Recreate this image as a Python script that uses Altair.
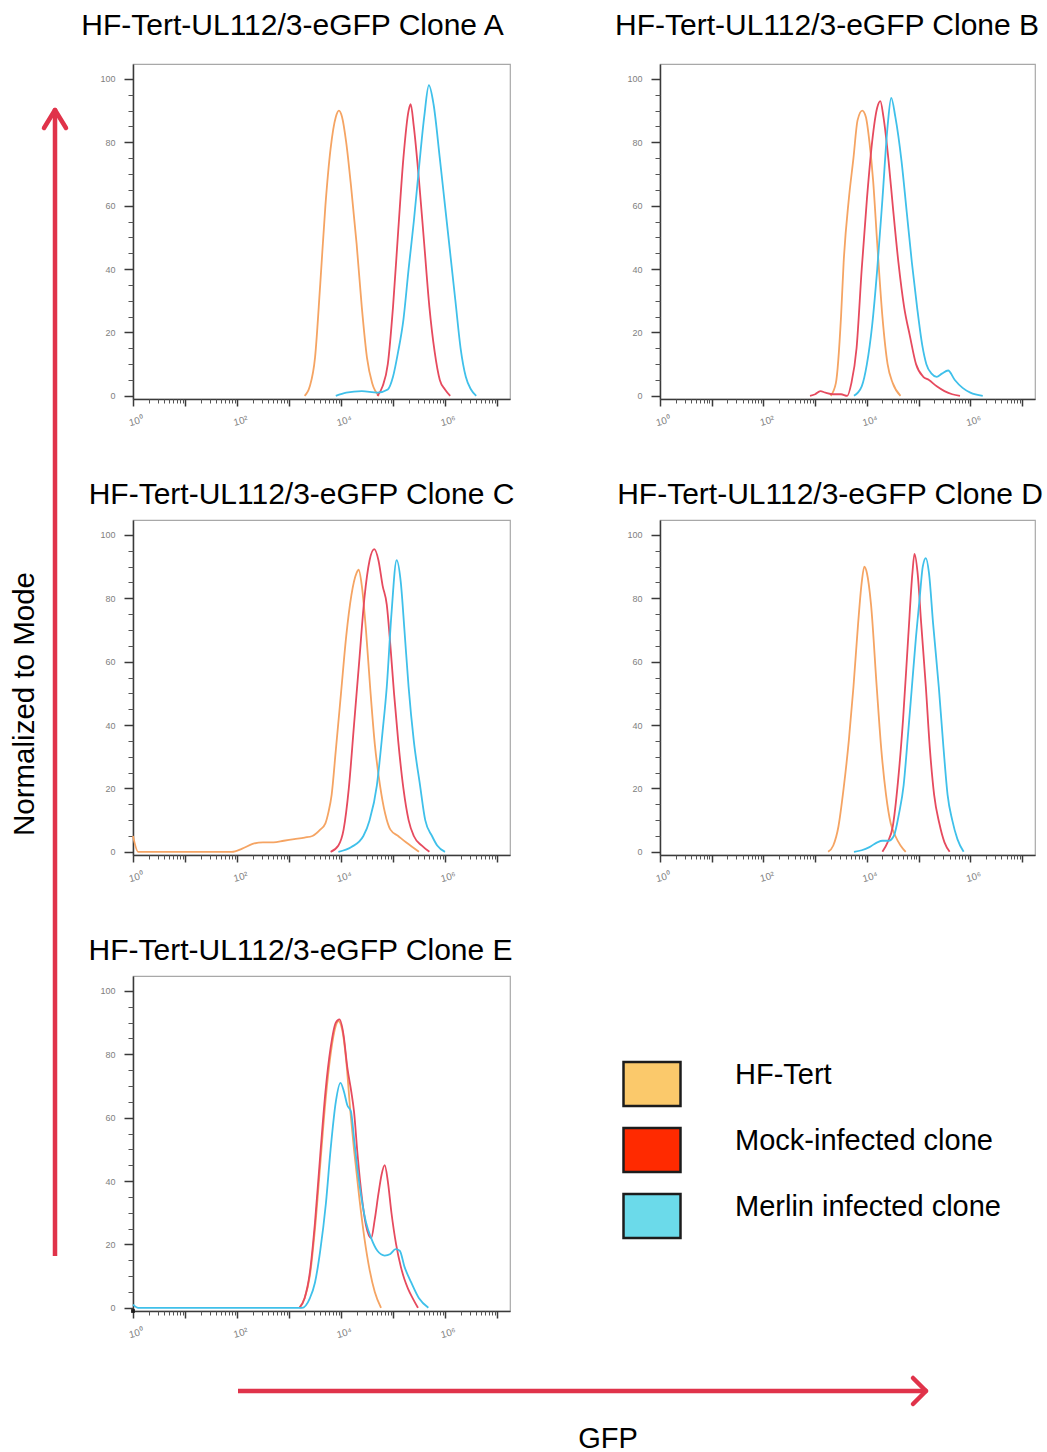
import altair as alt
import pandas as pd
import numpy as np

FONT = "Liberation Sans"
SERIES = ["HF-Tert", "Mock-infected clone", "Merlin infected clone"]
LINE_COLORS = ["#F5A463", "#E64A5E", "#3FC0EA"]
LEGEND_FILLS = ["#FBC96B", "#FF2A00", "#6BDAEA"]
ARROW = "#E0334A"
AX = "#3a3a3a"

TITLES = ["HF-Tert-UL112/3-eGFP Clone A", "HF-Tert-UL112/3-eGFP Clone B",
          "HF-Tert-UL112/3-eGFP Clone C", "HF-Tert-UL112/3-eGFP Clone D",
          "HF-Tert-UL112/3-eGFP Clone E"]
X_MAJOR = [0, 1, 2, 3, 4, 5, 6, 7]
Y_MAJOR = [0, 20, 40, 60, 80, 100]

# ---- Clone A (x = log10 GFP, y = % of mode)
A_tert_x = [3.3, 3.4, 3.5, 3.6, 3.7, 3.8, 3.9, 3.96, 4.02, 4.1, 4.2, 4.3, 4.4, 4.5, 4.6, 4.73]
A_tert_y = [0, 3, 12, 35, 60, 78, 88, 90, 88, 80, 65, 48, 28, 12, 4, 0]
A_mock_x = [4.7, 4.8, 4.9, 5.0, 5.1, 5.2, 5.3, 5.34, 5.4, 5.5, 5.6, 5.7, 5.8, 5.9, 6.0, 6.1]
A_mock_y = [0, 3, 10, 28, 52, 75, 90, 92, 85, 68, 48, 28, 14, 5, 2, 0]
A_merl_x = [3.9, 4.1, 4.4, 4.7, 4.9, 5.0, 5.1, 5.2, 5.3, 5.4, 5.5, 5.6, 5.69, 5.78, 5.9, 6.0, 6.1, 6.2, 6.3, 6.4, 6.5, 6.6]
A_merl_y = [0, 1, 1.5, 1, 2, 6, 14, 24, 40, 55, 72, 88, 98, 92, 75, 60, 45, 30, 15, 6, 2, 0]

# ---- Clone B
B_tert_x = [3.3, 3.4, 3.5, 3.55, 3.65, 3.74, 3.82, 3.91, 3.98, 4.05, 4.12, 4.2, 4.3, 4.4, 4.5, 4.65]
B_tert_y = [0, 4, 25, 42, 62, 75, 87, 90, 88, 80, 68, 48, 25, 10, 4, 0]
B_mock_x = [2.9, 3.0, 3.1, 3.2, 3.35, 3.5, 3.62, 3.7, 3.8, 3.9, 4.0, 4.1, 4.2, 4.26, 4.32, 4.42, 4.5,
            4.61, 4.72, 4.83, 4.95, 5.09, 5.2, 5.35, 5.5, 5.65, 5.8]
B_mock_y = [0, 0.5, 1.5, 1, 0.5, 0.5, 0, 4, 15, 40, 62, 80, 91, 93, 88, 74, 60,
            42, 28, 19, 10, 6, 5, 3, 1.5, 0.5, 0]
B_merl_x = [3.75, 3.9, 4.0, 4.1, 4.2, 4.3, 4.4, 4.47, 4.55, 4.67, 4.77, 4.87, 4.97, 5.07, 5.15,
            5.25, 5.35, 5.45, 5.57, 5.7, 5.85, 6.0, 6.24]
B_merl_y = [0, 3, 10, 22, 40, 62, 85, 94, 88, 74, 58, 42, 28, 16, 10,
            7, 6, 7, 8, 5, 2.5, 1, 0]

# ---- Clone C
C_tert_x = [0, 0.1, 1.9, 2.1, 2.3, 2.5, 2.7, 2.9, 3.1, 3.3, 3.45, 3.6, 3.7, 3.76, 3.82, 3.9, 4.0,
            4.1, 4.2, 4.3, 4.34, 4.4, 4.48, 4.56, 4.65, 4.75, 4.85, 4.95, 5.1, 5.25, 5.5]
C_tert_y = [5, 0, 0, 1, 2.5, 3, 3, 3.5, 4, 4.5, 5, 7, 9, 12.6, 18, 32, 50,
            68, 81, 88, 89, 84, 70, 52, 34, 21, 12, 7, 5, 3, 0]
C_mock_x = [3.8, 3.95, 4.05, 4.15, 4.25, 4.35, 4.45, 4.55, 4.64, 4.72, 4.8, 4.88, 4.95, 5.02, 5.1,
            5.2, 5.3, 5.4, 5.55, 5.7]
C_mock_y = [0, 2, 7, 20, 40, 60, 80, 92, 95.5, 92, 84, 78, 65, 50, 35, 20, 10, 5, 2, 0]
C_merl_x = [3.95, 4.2, 4.43, 4.55, 4.69, 4.8, 4.88, 4.97, 5.07, 5.15, 5.22, 5.3, 5.4, 5.52, 5.62,
            5.75, 5.85, 6.0]
C_merl_y = [0, 1.5, 5, 10, 21, 38, 52, 75, 92, 85, 70, 52, 35, 21, 10, 5, 2, 0]

# ---- Clone D
D_tert_x = [3.25, 3.35, 3.45, 3.55, 3.65, 3.74, 3.83, 3.9, 3.95, 4.0, 4.08, 4.19, 4.28, 4.37, 4.46,
            4.55, 4.65, 4.75]
D_tert_y = [0, 2, 8, 20, 35, 52, 72, 85, 90, 88, 78, 52, 32, 18, 9, 5, 2, 0]
D_mock_x = [4.3, 4.4, 4.5, 4.6, 4.7, 4.8, 4.88, 4.92, 4.98, 5.05, 5.14, 5.22, 5.3, 5.4, 5.5, 5.6]
D_mock_y = [0, 3, 8, 22, 42, 68, 88, 94, 88, 72, 52, 32, 18, 9, 3, 0]
D_merl_x = [3.75, 3.9, 4.05, 4.2, 4.3, 4.42, 4.52, 4.62, 4.71, 4.8, 4.87, 4.95, 5.02, 5.08, 5.14,
            5.2, 5.28, 5.39, 5.48, 5.56, 5.65, 5.75, 5.87]
D_merl_y = [0, 0.5, 1.5, 3, 3.5, 3.5, 5, 12, 21, 38, 52, 68, 80, 90, 92.7,
            88, 72, 52, 33, 18, 10, 4, 0]

# ---- Clone E
E_tert_x = [3.2, 3.3, 3.4, 3.5, 3.6, 3.7, 3.8, 3.9, 3.95, 4.02, 4.1, 4.18, 4.25, 4.35, 4.45, 4.55,
            4.65, 4.77]
E_tert_y = [0, 3, 10, 25, 45, 65, 80, 89, 90.5, 88, 78, 62, 50, 35, 22, 12, 5, 0]
E_mock_x = [3.2, 3.3, 3.4, 3.5, 3.6, 3.7, 3.8, 3.9, 3.97, 4.05, 4.12, 4.2, 4.25, 4.32, 4.4, 4.48,
            4.58, 4.65, 4.72, 4.78, 4.84, 4.9, 4.97, 5.06, 5.15, 5.22, 5.29, 5.38, 5.48]
E_mock_y = [0, 3, 11, 27, 48, 68, 82, 90, 91, 86, 76, 68, 62, 48, 35, 26,
            22, 28, 36, 42, 45, 40, 30, 20, 13, 9, 6, 3, 0]
E_merl_x = [0, 0.1, 3.25, 3.4, 3.5, 3.6, 3.71, 3.8, 3.9, 3.99, 4.06, 4.12, 4.19, 4.26, 4.33, 4.39,
            4.48, 4.58, 4.7, 4.84, 4.95, 5.05, 5.13, 5.22, 5.35, 5.5, 5.68]
E_merl_y = [1, 0, 0, 3, 8, 18, 33, 50, 65, 71, 68, 64, 62, 52, 42, 35,
            27, 22, 18, 16.5, 17, 18.5, 18, 13, 8, 3, 0]

X_DOMAIN = [0, 7.25]
Y_DOMAIN = [-1, 104.7]
H = 335
W_LEFT = 377
W_RIGHT = 375
MINOR_X = [round(d + float(np.log10(k)), 4) for d in range(0, 8) for k in range(2, 10)
           if d + np.log10(k) <= X_DOMAIN[1]]
MINOR_Y = [v for v in range(5, 101, 5) if v % 20 != 0]
LABEL_EXPR = ("datum.value == 0 ? '10\u2070' : datum.value == 2 ? '10\u00b2' : "
              "datum.value == 4 ? '10\u2074' : datum.value == 6 ? '10\u2076' : ''")


def make_df(xs_list, ys_list):
    rows = []
    for s, xs, ys in zip(SERIES, xs_list, ys_list):
        for x, y in zip(xs, ys):
            rows.append({"series": s, "logGFP": x, "pct": y})
    return pd.DataFrame(rows)


def annotations():
    # panel titles, arrows and axis names, in pixels relative to panel A's plot area
    base = alt.Chart(pd.DataFrame({"k": [0]}))
    frame_rule = base.mark_rule(opacity=0).encode(
        x=alt.value(-132), y=alt.value(-63), y2=alt.value(1389))
    v_shaft = base.mark_rule(color=ARROW, strokeWidth=4.5).encode(
        x=alt.value(-78), y=alt.value(49), y2=alt.value(1192))
    v_w1 = base.mark_rule(color=ARROW, strokeWidth=4.5, strokeCap="round").encode(
        x=alt.value(-78), y=alt.value(46), x2=alt.value(-89), y2=alt.value(64))
    v_w2 = base.mark_rule(color=ARROW, strokeWidth=4.5, strokeCap="round").encode(
        x=alt.value(-78), y=alt.value(46), x2=alt.value(-67), y2=alt.value(64))
    h_shaft = base.mark_rule(color=ARROW, strokeWidth=4.5).encode(
        x=alt.value(105), x2=alt.value(790), y=alt.value(1327))
    h_w1 = base.mark_rule(color=ARROW, strokeWidth=4.5, strokeCap="round").encode(
        x=alt.value(793), y=alt.value(1327), x2=alt.value(780), y2=alt.value(1314))
    h_w2 = base.mark_rule(color=ARROW, strokeWidth=4.5, strokeCap="round").encode(
        x=alt.value(793), y=alt.value(1327), x2=alt.value(780), y2=alt.value(1340))
    gfp = base.mark_text(text="GFP", fontSize=29, font=FONT, color="black", align="center",
                         baseline="middle").encode(x=alt.value(475), y=alt.value(1375))
    ylab = base.mark_text(text="Normalized to Mode", fontSize=29.5, font=FONT, color="black",
                          align="center", baseline="middle", angle=270).encode(
        x=alt.value(-108), y=alt.value(640))
    title_pos = [(159.5, -38), (694, -38), (168.5, 431), (697, 431), (167.5, 887)]
    titles = [base.mark_text(text=t, fontSize=30, font=FONT, color="black", align="center",
                             baseline="middle").encode(x=alt.value(px), y=alt.value(py))
              for t, (px, py) in zip(TITLES, title_pos)]
    return [frame_rule, v_shaft, v_w1, v_w2, h_shaft, h_w1, h_w2, gfp, ylab] + titles


def panel(df, w, with_legend=False, with_annot=False):
    xs = alt.Scale(domain=X_DOMAIN, nice=False, zero=False)
    ys = alt.Scale(domain=Y_DOMAIN, nice=False, zero=False)
    lines = alt.Chart(df).mark_line(strokeWidth=1.8, interpolate="monotone").encode(
        x=alt.X("logGFP:Q", scale=xs, title=None,
                axis=alt.Axis(values=X_MAJOR, labelExpr=LABEL_EXPR, tickSize=7, tickWidth=1.5,
                              tickColor=AX, domainColor=AX, domainWidth=1.5, labelFontSize=10,
                              labelColor="#808080", labelPadding=8, labelAngle=-15,
                              labelOffset=9, grid=False, orient="bottom", labelFont=FONT)),
        y=alt.Y("pct:Q", scale=ys, title=None,
                axis=alt.Axis(values=Y_MAJOR, tickSize=9, tickWidth=1.5, tickColor=AX,
                              domainColor=AX, domainWidth=1.5, labelFontSize=9,
                              labelColor="#808080", labelPadding=9, grid=False,
                              orient="left", labelFont=FONT)),
        color=alt.Color("series:N", scale=alt.Scale(domain=SERIES, range=LINE_COLORS),
                        legend=None),
    )
    minor = alt.Chart(df).mark_line(opacity=0).encode(
        x=alt.X("logGFP:Q", scale=xs, title=None,
                axis=alt.Axis(values=MINOR_X, labels=False, tickSize=4, tickColor="#555555",
                              domain=False, grid=False, orient="bottom")),
        y=alt.Y("pct:Q", scale=ys, title=None,
                axis=alt.Axis(values=MINOR_Y, labels=False, tickSize=5, tickColor="#555555",
                              domain=False, grid=False, orient="left")),
        detail="series:N",
    )
    layers = [lines, minor]
    if with_legend:
        leg = alt.Chart(pd.DataFrame({"series": SERIES})).mark_square(
            size=1, filled=True, stroke="#1c1c1c", strokeWidth=2.5
        ).encode(
            x=alt.value(0), y=alt.value(H),
            fill=alt.Fill("series:N", scale=alt.Scale(domain=SERIES, range=LEGEND_FILLS),
                          legend=alt.Legend(title=None, orient="none", legendX=489, legendY=78,
                                            symbolType="M-1,-0.77H1V0.77H-1Z", symbolSize=3249,
                                            symbolStrokeColor="#1c1c1c", symbolStrokeWidth=2.5,
                                            symbolOpacity=1, labelFontSize=29, labelColor="black",
                                            labelFont=FONT, labelOffset=53, rowPadding=9,
                                            labelBaseline="alphabetic",
                                            labelLimit=600, padding=0)),
        )
        layers.append(leg)
    if with_annot:
        layers.extend(annotations())
    return alt.layer(*layers).resolve_axis(x="independent", y="independent").properties(
        width=w, height=H,
        view=alt.ViewBackground(stroke="#a8a8a8", strokeWidth=1.2),
    )


pA = panel(make_df([A_tert_x, A_mock_x, A_merl_x], [A_tert_y, A_mock_y, A_merl_y]), W_LEFT,
           with_annot=True)
pB = panel(make_df([B_tert_x, B_mock_x, B_merl_x], [B_tert_y, B_mock_y, B_merl_y]), W_RIGHT)
pC = panel(make_df([C_tert_x, C_mock_x, C_merl_x], [C_tert_y, C_mock_y, C_merl_y]), W_LEFT)
pD = panel(make_df([D_tert_x, D_mock_x, D_merl_x], [D_tert_y, D_mock_y, D_merl_y]), W_RIGHT)
pE = panel(make_df([E_tert_x, E_mock_x, E_merl_x], [E_tert_y, E_mock_y, E_merl_y]), W_LEFT,
           with_legend=True)

chart = alt.concat(pA, pB, pC, pD, pE, columns=2, spacing={"row": 121, "column": 150},
                   bounds="flush", padding=0).resolve_scale(
    fill="independent").resolve_legend(fill="independent").configure(font=FONT).configure_view(
    stroke="transparent").configure_axis(grid=False)

chart.save("out.html", embed_options={"renderer": "svg", "actions": False})
